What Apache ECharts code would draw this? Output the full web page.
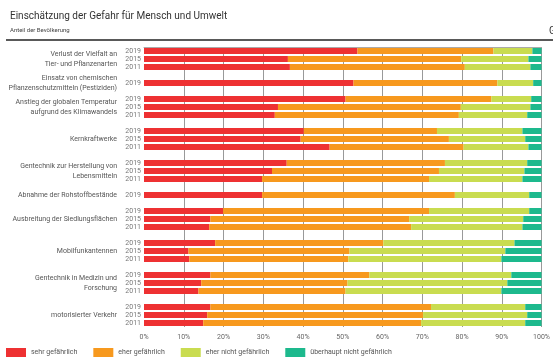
<!DOCTYPE html>
<html>
<head>
<meta charset="utf-8">
<script src="https://cdn.jsdelivr.net/npm/echarts@6/dist/echarts.min.js"></script>
<style>html,body{margin:0;padding:0;background:#fff}#c{width:553px;height:363px}</style>
</head>
<body>
<div id="c"></div>
<script>
// Categories (group labels) and the survey years per group
const categories = [
  "Verlust der Vielfalt an\nTier- und Pflanzenarten",
  "Einsatz von chemischen\nPflanzenschutzmitteln (Pestiziden)",
  "Anstieg der globalen Temperatur\naufgrund des Klimawandels",
  "Kernkraftwerke",
  "Gentechnik zur Herstellung von\nLebensmitteln",
  "Abnahme der Rohstoffbestände",
  "Ausbreitung der Siedlungsflächen",
  "Mobilfunkantennen",
  "Gentechnik in Medizin und\nForschung",
  "motorisierter Verkehr"
];
const groupYears = [
  ["2019","2015","2011"],
  ["2019"],
  ["2019","2015","2011"],
  ["2019","2015","2011"],
  ["2019","2015","2011"],
  ["2019"],
  ["2019","2015","2011"],
  ["2019","2015","2011"],
  ["2019","2015","2011"],
  ["2019","2015","2011"]
];
const seriesNames = ["sehr gefährlich","eher gefährlich","eher nicht gefährlich","überhaupt nicht gefährlich"];
// values per bar row (in order of groups / years)
const sehr       = [53.7,36.2,36.7, 52.7, 50.7,33.7,32.9, 40.2,39.4,46.7, 35.9,32.2,29.7, 29.7, 19.9,16.7,16.4, 17.9,11.2,11.4, 16.7,14.4,13.7, 16.7,15.9,14.9];
const eher       = [34.2,43.6,44.0, 36.2, 36.7,46.0,46.3, 33.5,37.3,33.7, 39.8,42.0,42.0, 48.5, 51.8,50.0,50.8, 42.3,40.5,40.0, 40.0,36.8,37.0, 55.5,54.3,54.8];
const eherNicht  = [ 9.8,16.9,16.5,  9.0, 10.0,17.5,17.2, 21.5,19.2,16.3, 20.7,21.5,23.5, 18.7, 25.2,28.7,28.0, 33.0,39.2,38.5, 35.7,40.2,39.2, 23.7,26.2,26.2];
const ueberhaupt = [ 2.3, 3.3, 2.8,  2.1,  2.6, 2.8, 3.6,  4.8, 4.1, 3.3,  3.6, 4.3, 4.8,  3.1,  3.1, 4.6, 4.8,  6.8, 9.1,10.1,  7.6, 8.6,10.1,  4.1, 3.6, 4.1];
const xTicks = [0,10,20,30,40,50,60,70,80,90,100];

// build slot rows with blank spacer rows between groups
const yearSlots = [], groupSlots = [];
const rowIndex = [];
let r = 0;
groupYears.forEach((ys, g) => {
  if (g > 0) { yearSlots.push(""); groupSlots.push(""); rowIndex.push(-1); }
  const mid = Math.floor((ys.length - 1) / 2);
  ys.forEach((y, k) => {
    yearSlots.push(y);
    groupSlots.push(k === mid ? categories[g] : "");
    rowIndex.push(r++);
  });
});
const valueSets = [sehr, eher, eherNicht, ueberhaupt];
const colors = ["#EE3132","#F7991E","#C9DC50","#1DB98D"];

const chart = echarts.init(document.getElementById('c'), null, {renderer:'canvas'});
chart.setOption({
  animation: false,
  textStyle: {fontFamily: 'Roboto'},
  title: [
    {text: 'Einschätzung der Gefahr für Mensch und Umwelt', left: 5, top: 6,
     textStyle: {fontSize: 10, fontWeight: 'normal', color: '#333', fontFamily: 'Roboto'}},
    {text: 'Anteil der Bevölkerung', left: 5, top: 22,
     textStyle: {fontSize: 6, fontWeight: 'normal', color: '#444', fontFamily: 'Roboto'}},
    {text: 'G', left: 544, top: 21,
     textStyle: {fontSize: 10, fontWeight: 'normal', color: '#333', fontFamily: 'Roboto'}}
  ],
  graphic: [
    {type: 'line', shape: {x1: 6, y1: 40, x2: 553, y2: 40}, style: {stroke: '#222', lineWidth: 1.5}}
  ],
  legend: {
    left: 1, top: 343, icon: 'rect', itemWidth: 20, itemHeight: 9, itemGap: 16,
    textStyle: {fontSize: 7, color: '#555', fontFamily: 'Roboto'},
    data: seriesNames
  },
  grid: {left: 144, right: 9, top: 47, bottom: 36, containLabel: false},
  xAxis: [
    {type: 'value', min: 0, max: 100, interval: 10, position: 'bottom',
     axisLine: {show: false}, axisTick: {show: false},
     axisLabel: {formatter: '{value}%', fontSize: 7, color: '#666', margin: 7},
     splitLine: {show: true, showMinLine: false, lineStyle: {color: '#999', width: 1}}},
    {type: 'value', min: 0, max: 100, interval: 10, position: 'top',
     axisLine: {show: true, onZero: false, lineStyle: {color: '#aaa', width: 1}},
     axisTick: {show: false}, axisLabel: {show: false}, splitLine: {show: false}}
  ],
  yAxis: [
    {type: 'category', inverse: true, data: yearSlots,
     axisLine: {show: false}, axisTick: {show: false},
     axisLabel: {fontSize: 7, color: '#777', margin: 3, interval: 0}},
    {type: 'category', inverse: true, position: 'left', data: groupSlots,
     axisLine: {show: false}, axisTick: {show: false},
     axisLabel: {fontSize: 7, color: '#555', margin: 27, interval: 0, lineHeight: 10, align: 'right'}}
  ],
  series: valueSets.map((vals, i) => ({
    name: seriesNames[i], type: 'bar', stack: 'total', barWidth: 6,
    xAxisIndex: 0, yAxisIndex: 0,
    itemStyle: {color: colors[i]},
    data: rowIndex.map(ri => ri < 0 ? '-' : vals[ri])
  }))
});
</script>
</body>
</html>
